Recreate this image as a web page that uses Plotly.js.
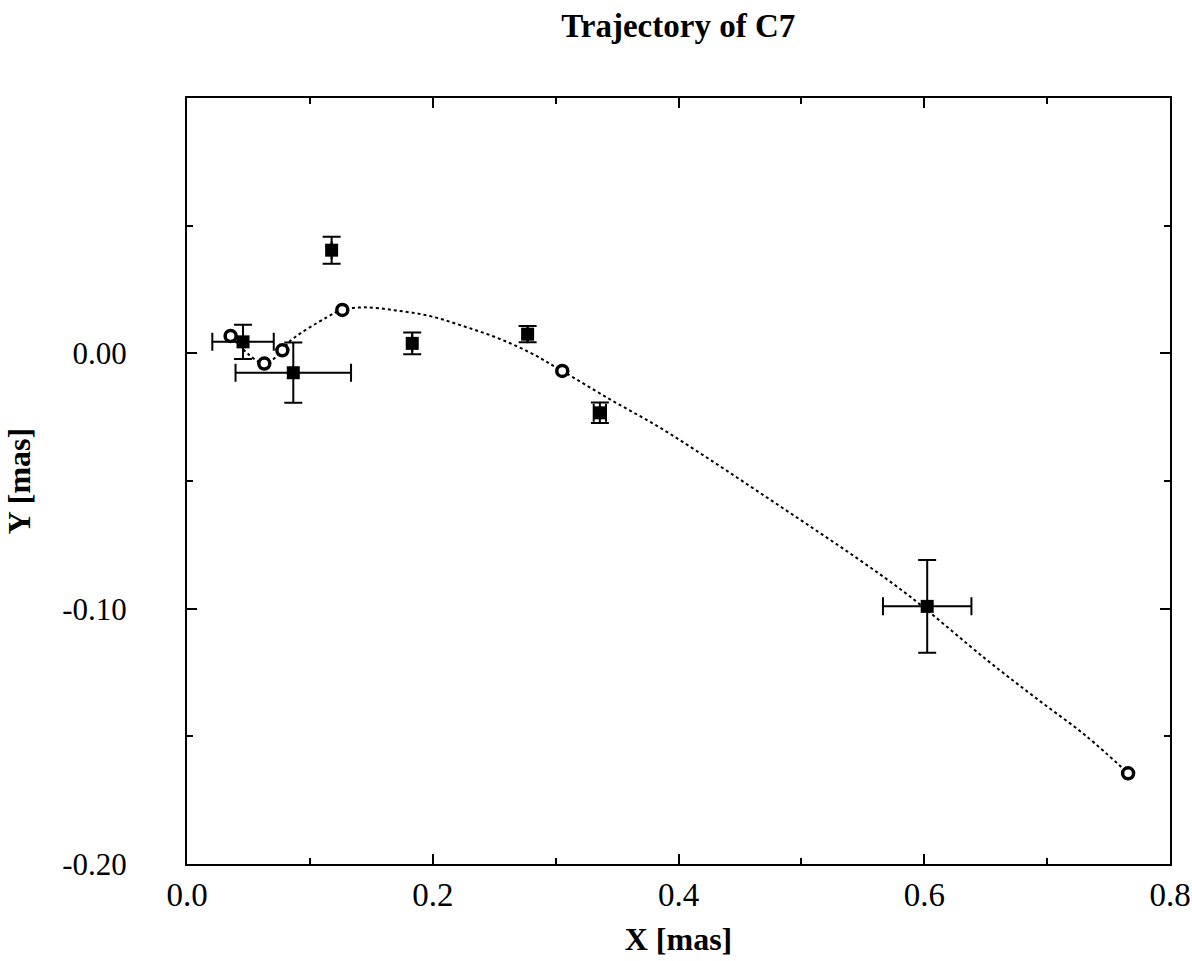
<!DOCTYPE html>
<html>
<head>
<meta charset="utf-8">
<script src="https://cdn.plot.ly/plotly-3.0.1.min.js"></script>
<style>html,body{margin:0;padding:0;background:#fff;}#chart{width:1192px;height:961px;}</style>
</head>
<body>
<div id="chart"></div>
<script>
// Observed positions (filled squares) with errors
const obsX    = [0.0456, 0.0865, 0.1177, 0.1833, 0.2772, 0.3360, 0.6024];
const obsY    = [0.0045, -0.0076, 0.0404, 0.0039, 0.0075, -0.0233, -0.0991];
const obsXerr = [0.025, 0.047, 0, 0, 0, 0.005, 0.036];
const obsYerr = [0.0067, 0.0118, 0.0053, 0.0043, 0.0032, 0.0040, 0.0182];

// Model positions (open circles)
const modelX = [0.0355, 0.0629, 0.0776, 0.1264, 0.3054, 0.7659];
const modelY = [0.0068, -0.0040, 0.0012, 0.0170, -0.0069, -0.1645];

// Fitted trajectory (dotted curve)
const curveX = [0.0355, 0.0629, 0.0776, 0.0838, 0.1137, 0.1264, 0.1448, 0.1700, 0.1977, 0.2246, 0.2522, 0.2791, 0.3054, 0.3442, 0.3849, 0.4255, 0.4662, 0.5069, 0.5476, 0.5883, 0.6507, 0.6914, 0.7321, 0.7659];
const curveY = [0.0068, -0.0040, 0.0012, 0.0048, 0.0141, 0.0170, 0.0180, 0.0168, 0.0146, 0.0107, 0.0061, 0.0003, -0.0069, -0.0180, -0.0291, -0.0416, -0.0546, -0.0677, -0.0810, -0.0952, -0.1200, -0.1352, -0.1500, -0.1645];

const xTicks = [0.0, 0.2, 0.4, 0.6, 0.8];
const xTickText = ['0.0', '0.2', '0.4', '0.6', '0.8'];
const yTicks = [-0.20, -0.10, 0.00];
const yTickText = ['-0.20', '-0.10', '0.00'];

const fontFam = '"Liberation Serif", "Times New Roman", serif';

const traces = [
  {
    x: curveX, y: curveY, type: 'scatter', mode: 'lines',
    line: {color: '#000', width: 2, dash: '3px,3px', shape: 'spline', smoothing: 1},
    hoverinfo: 'skip', showlegend: false
  },
  {
    x: obsX, y: obsY, type: 'scatter', mode: 'markers',
    marker: {symbol: 'square', size: 13, color: '#000'},
    error_x: {type: 'data', array: obsXerr, visible: true, color: '#000', thickness: 2, width: 9},
    error_y: {type: 'data', array: obsYerr, visible: true, color: '#000', thickness: 2, width: 9},
    showlegend: false
  },
  {
    x: modelX, y: modelY, type: 'scatter', mode: 'markers',
    marker: {symbol: 'circle', size: 11, color: '#fff', line: {color: '#000', width: 3.5}},
    showlegend: false
  }
];

const axisCommon = {
  showgrid: false, zeroline: false, showline: true, linecolor: '#000', linewidth: 2,
  mirror: 'ticks', ticks: 'inside', ticklen: 10, tickwidth: 2, tickcolor: '#000'
};

const layout = {
  width: 1192, height: 961,
  paper_bgcolor: '#fff', plot_bgcolor: '#fff',
  margin: {l: 187, r: 22, t: 98, b: 97},
  title: {
    text: 'Trajectory of C7',
    font: {family: fontFam, size: 33, color: '#000', weight: 'bold'},
    x: 0.569, xanchor: 'center', y: 0.973, yanchor: 'middle'
  },
  xaxis: Object.assign({}, axisCommon, {
    range: [0, 0.8],
    tickvals: xTicks, ticktext: xTickText,
    tickfont: {family: fontFam, size: 33, color: '#000'},
    minor: {dtick: 0.1, ticks: 'inside', ticklen: 6, tickwidth: 2, tickcolor: '#000'},
    title: {text: 'X [mas]', font: {family: fontFam, size: 32, color: '#000', weight: 'bold'}, standoff: 16}
  }),
  yaxis: Object.assign({}, axisCommon, {
    range: [-0.2, 0.1],
    tickvals: yTicks, ticktext: yTickText,
    tickfont: {family: fontFam, size: 31, color: '#000'},
    ticklabelstandoff: 52,
    minor: {tickvals: [-0.15, -0.05, 0.05, 0.10], ticks: 'inside', ticklen: 6, tickwidth: 2, tickcolor: '#000'},
    title: {text: 'Y [mas]', font: {family: fontFam, size: 32, color: '#000', weight: 'bold'}, standoff: 22}
  })
};

Plotly.newPlot('chart', traces, layout, {displayModeBar: false, staticPlot: true});
</script>
</body>
</html>
